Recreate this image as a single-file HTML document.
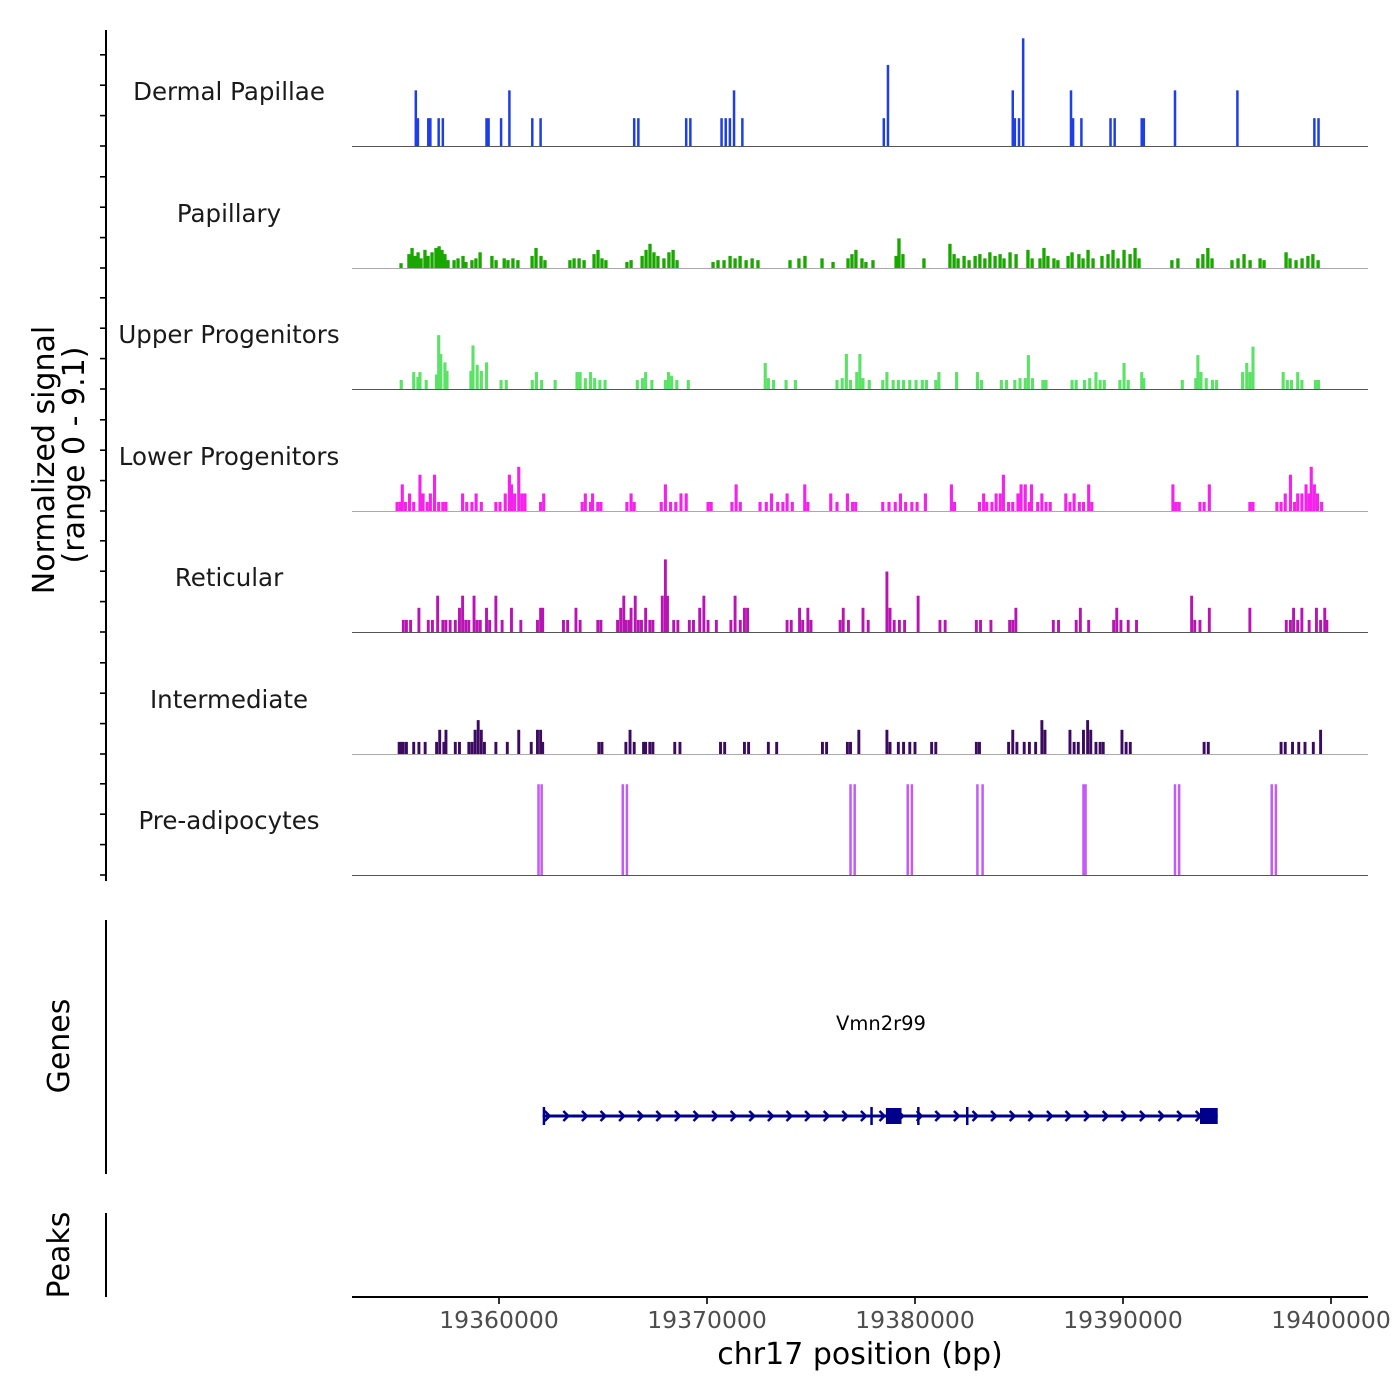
<!DOCTYPE html>
<html><head><meta charset="utf-8"><style>
html,body{margin:0;padding:0;background:#fff}
svg{display:block;font-family:"DejaVu Sans","Liberation Sans",sans-serif}
</style></head><body>
<svg id="chart" width="1400" height="1400" viewBox="0 0 1400 1400" xmlns="http://www.w3.org/2000/svg">
<g id="tracks"></g>
<g id="genes"></g>
<g id="axes"></g>
</svg>
<script>
const trackNames = ["Dermal Papillae","Papillary","Upper Progenitors","Lower Progenitors","Reticular","Intermediate","Pre-adipocytes"];
const trackColors = ["#1f3fe6","#1aa800","#5ce266","#f522ee","#b814b4","#3c0a60","#c25cf7"];
const dermalPos = [19356.0,19356.1,19356.6,19356.7,19357.1,19357.3,19359.4,19359.5,19360.1,19360.5,19361.6,19362.0,19366.5,19366.7,19369.0,19369.2,19370.7,19370.9,19371.1,19371.3,19371.7,19378.5,19378.7,19384.7,19384.8,19385.0,19385.2,19387.5,19387.6,19388.0,19389.4,19389.6,19390.9,19391.0,19392.5,19395.5,19399.2,19399.4];
const dermalVal = [4.6,2.3,2.3,2.3,2.3,2.3,2.3,2.3,2.3,4.6,2.3,2.3,2.3,2.3,2.3,2.3,2.3,2.3,2.3,4.6,2.3,2.3,6.7,4.6,2.3,2.3,8.9,4.6,2.3,2.3,2.3,2.3,2.3,2.3,4.6,4.6,2.3,2.3];
const papPos = [19355.29,19355.67,19355.82,19355.96,19356.11,19356.25,19356.44,19356.59,19356.78,19356.97,19357.12,19357.26,19357.40,19357.55,19357.84,19358.03,19358.27,19358.41,19358.70,19358.89,19359.09,19359.66,19359.86,19360.25,19360.43,19360.67,19360.91,19361.59,19361.78,19362.02,19362.21,19363.41,19363.61,19363.85,19364.09,19364.57,19364.76,19364.95,19365.14,19366.15,19366.35,19366.88,19367.07,19367.26,19367.45,19367.64,19367.93,19368.17,19368.37,19368.56,19370.29,19370.53,19370.82,19371.11,19371.35,19371.59,19371.88,19372.17,19372.45,19373.99,19374.42,19374.71,19375.53,19376.06,19376.78,19376.97,19377.16,19377.45,19377.64,19377.98,19379.09,19379.23,19379.42,19380.43,19381.68,19381.88,19382.07,19382.36,19382.60,19382.89,19383.12,19383.36,19383.60,19383.85,19384.09,19384.28,19384.57,19384.86,19385.43,19385.63,19386.01,19386.20,19386.39,19386.68,19386.87,19387.36,19387.55,19387.88,19388.08,19388.32,19388.56,19388.99,19389.28,19389.52,19389.76,19390.05,19390.34,19390.58,19390.77,19392.35,19392.64,19393.60,19393.84,19394.08,19394.28,19395.24,19395.53,19395.82,19396.11,19396.59,19396.78,19397.84,19398.03,19398.32,19398.61,19398.89,19399.13,19399.38];
const papVal = [0.4,1.15,1.65,1.0,1.3,0.8,1.5,1.0,1.3,1.65,1.8,1.5,1.15,0.65,0.65,0.8,1.0,0.5,0.65,0.8,1.3,1.0,0.65,0.8,0.65,0.8,0.65,1.0,1.65,1.0,0.65,0.65,0.8,0.8,0.65,1.15,1.5,0.8,0.65,0.5,0.65,1.0,1.5,2.0,1.3,1.0,0.8,1.3,1.5,0.65,0.5,0.65,0.65,1.0,0.8,1.0,0.65,0.8,0.65,0.65,0.8,1.0,0.8,0.5,0.8,1.15,1.5,0.8,0.5,0.65,1.0,2.45,1.15,0.8,2.0,1.15,0.8,1.0,0.65,1.0,1.15,0.8,1.3,1.0,1.15,0.8,1.3,1.15,1.5,0.8,0.8,1.65,1.0,0.8,0.65,1.0,1.3,1.15,0.8,1.5,0.8,1.0,1.15,1.5,0.8,1.5,1.15,1.65,0.8,0.65,0.8,0.8,1.15,1.65,0.8,0.65,0.8,1.15,0.65,0.8,0.65,1.3,0.8,0.65,0.8,1.0,1.15,0.65];
const upPos = [19355.3,19355.9,19356.1,19356.2,19356.5,19357.0,19357.1,19357.2,19357.4,19357.5,19358.65,19358.75,19358.95,19359.15,19359.4,19360.1,19360.35,19361.6,19361.8,19362.05,19362.7,19363.75,19363.9,19364.15,19364.4,19364.6,19364.85,19365.1,19366.65,19366.9,19367.05,19367.35,19368.0,19368.15,19368.3,19368.55,19369.1,19372.8,19372.95,19373.2,19373.8,19374.25,19376.25,19376.5,19376.7,19376.9,19377.2,19377.35,19377.5,19377.8,19378.45,19378.65,19378.95,19379.2,19379.45,19379.75,19380.05,19380.35,19380.55,19381.0,19381.15,19382.0,19383.0,19383.2,19384.15,19384.4,19384.8,19385.05,19385.3,19385.45,19385.65,19386.15,19386.3,19387.55,19387.75,19388.15,19388.4,19388.7,19388.9,19389.1,19389.85,19390.05,19390.25,19390.9,19391.0,19392.85,19393.5,19393.6,19393.75,19394.0,19394.3,19394.5,19395.75,19395.95,19396.1,19396.25,19397.7,19397.9,19398.1,19398.4,19398.6,19399.25,19399.4];
const upVal = [0.75,1.4,1.0,1.4,0.75,1.2,4.45,2.9,2.2,1.5,1.5,3.6,2.0,1.5,2.2,0.75,0.75,0.75,1.4,0.75,0.75,1.4,1.4,0.9,1.4,0.9,0.75,0.75,0.75,0.9,1.4,0.75,0.75,1.4,1.1,0.75,0.75,2.15,0.9,0.75,0.75,0.75,0.75,0.9,2.9,0.75,1.4,2.9,0.9,0.75,0.75,1.4,0.75,0.75,0.75,0.75,0.75,0.75,0.75,0.75,1.4,1.4,1.4,0.75,0.75,0.75,0.75,0.9,0.9,2.8,0.9,0.75,0.75,0.75,0.75,0.75,0.9,1.4,0.75,0.75,0.75,2.15,0.75,1.4,0.9,0.75,0.9,2.8,1.4,0.9,0.75,0.75,1.4,2.15,1.4,3.5,1.4,0.75,0.75,1.4,0.75,0.75,0.75];
const lowPos = [19355.1,19355.25,19355.35,19355.5,19355.7,19355.9,19356.2,19356.35,19356.55,19356.7,19356.9,19357.1,19357.3,19357.45,19358.25,19358.45,19358.7,19358.9,19359.15,19359.85,19360.05,19360.3,19360.5,19360.6,19360.75,19360.95,19361.1,19361.25,19362.0,19362.15,19364.0,19364.15,19364.4,19364.5,19364.75,19364.9,19366.15,19366.35,19366.5,19367.8,19368.0,19368.25,19368.5,19368.75,19369.0,19370.05,19370.2,19371.2,19371.4,19371.6,19372.55,19372.85,19373.1,19373.4,19373.65,19373.85,19374.1,19374.7,19374.85,19375.95,19376.25,19376.75,19377.0,19377.15,19378.45,19378.75,19379.05,19379.3,19379.55,19379.85,19380.1,19380.5,19381.75,19381.9,19383.1,19383.3,19383.45,19383.7,19383.9,19384.1,19384.25,19384.5,19384.7,19384.95,19385.1,19385.3,19385.5,19385.6,19385.9,19386.1,19386.3,19386.5,19387.25,19387.45,19387.65,19387.9,19388.1,19388.35,19388.5,19392.4,19392.55,19392.7,19393.7,19393.9,19394.15,19396.1,19396.25,19397.4,19397.6,19397.8,19398.05,19398.25,19398.4,19398.6,19398.8,19398.95,19399.05,19399.2,19399.35,19399.55];
const lowVal = [0.75,0.75,2.2,0.75,1.45,0.75,3.0,1.45,0.75,1.45,3.0,0.75,0.75,0.75,1.45,0.75,0.75,1.45,0.75,0.75,0.75,1.45,3.0,2.2,1.45,3.65,1.45,1.45,0.75,1.45,0.75,1.45,0.75,1.45,0.75,0.75,0.75,1.45,0.75,0.75,2.2,0.75,0.75,1.45,1.45,0.75,0.75,0.75,2.2,0.75,0.75,0.75,1.45,0.75,0.75,1.45,0.75,2.2,0.75,1.45,0.75,1.45,0.75,0.75,0.75,0.75,0.75,1.45,0.75,0.75,0.75,1.45,2.2,0.75,0.75,1.45,0.75,0.75,1.45,1.45,3.0,0.75,0.75,1.45,2.2,2.2,0.75,2.2,0.75,1.45,0.75,0.75,1.45,0.75,1.45,0.75,0.75,2.2,0.75,2.2,0.75,0.75,0.75,0.75,2.2,0.75,0.75,0.75,0.75,1.45,3.0,0.75,1.45,1.45,2.2,1.45,3.65,2.2,1.45,0.75];
const retPos = [19355.4,19355.55,19355.75,19356.15,19356.6,19356.8,19357.05,19357.3,19357.45,19357.65,19357.9,19358.1,19358.25,19358.4,19358.55,19358.8,19358.95,19359.1,19359.4,19359.55,19359.85,19360.15,19360.6,19361.05,19361.85,19362.0,19362.1,19363.1,19363.3,19363.7,19363.9,19364.75,19364.9,19365.7,19365.85,19366.0,19366.1,19366.25,19366.35,19366.55,19366.7,19366.85,19367.05,19367.25,19367.4,19367.85,19368.0,19368.1,19368.4,19368.6,19369.15,19369.35,19369.65,19369.85,19370.05,19370.45,19371.15,19371.35,19371.6,19371.8,19371.95,19373.85,19374.05,19374.45,19374.6,19374.85,19375.0,19376.4,19376.55,19376.8,19377.5,19377.75,19378.65,19378.8,19379.0,19379.25,19379.5,19380.15,19381.2,19381.45,19382.95,19383.15,19383.65,19384.55,19384.7,19384.85,19386.65,19386.9,19387.75,19387.95,19388.35,19389.55,19389.7,19389.9,19390.25,19390.65,19393.3,19393.45,19393.7,19394.15,19396.1,19397.85,19398.05,19398.2,19398.4,19398.6,19398.95,19399.3,19399.5,19399.7,19399.8];
const retVal = [1.0,1.0,1.0,2.0,1.0,1.0,3.0,1.0,1.0,1.0,1.0,2.0,3.0,1.0,1.0,3.0,1.0,1.0,2.0,1.0,3.0,1.0,2.0,1.0,1.0,2.0,2.0,1.0,1.0,2.0,1.0,1.0,1.0,1.0,2.0,3.0,1.0,1.0,2.0,3.0,1.0,1.0,2.0,1.0,1.0,3.0,6.0,3.0,1.0,1.0,1.0,1.0,2.0,3.0,1.0,1.0,1.0,3.0,1.0,2.0,2.0,1.0,1.0,2.0,1.0,2.0,1.0,1.0,2.0,1.0,2.0,1.0,5.0,2.0,1.0,1.0,1.0,3.0,1.0,1.0,1.0,1.0,1.0,1.0,1.0,2.0,1.0,1.0,1.0,2.0,1.0,1.0,2.0,1.0,1.0,1.0,3.0,1.0,1.0,2.0,2.0,1.0,1.0,2.0,1.0,2.0,1.0,2.0,1.0,2.0,1.0];
const intPos = [19355.2,19355.3,19355.4,19355.55,19355.9,19356.15,19356.45,19357.0,19357.15,19357.35,19357.45,19357.9,19358.1,19358.55,19358.7,19358.85,19359.0,19359.15,19359.3,19359.85,19360.4,19360.95,19361.55,19361.85,19362.0,19362.1,19364.8,19364.95,19366.1,19366.3,19366.5,19366.95,19367.05,19367.25,19367.4,19368.45,19368.7,19370.65,19370.85,19371.8,19372.0,19372.95,19373.35,19375.55,19375.75,19376.75,19376.9,19377.3,19378.65,19378.8,19379.2,19379.45,19379.75,19380.0,19380.8,19381.0,19382.95,19383.1,19384.5,19384.7,19384.9,19385.25,19385.5,19385.8,19386.1,19386.25,19387.45,19387.65,19387.85,19388.1,19388.3,19388.45,19388.7,19388.9,19389.05,19389.95,19390.15,19390.35,19393.9,19394.1,19397.6,19397.8,19398.15,19398.45,19398.75,19399.15,19399.5];
const intVal = [1.0,1.0,1.0,1.0,1.0,1.0,1.0,1.0,2.0,1.0,2.0,1.0,1.0,1.0,1.0,2.0,2.8,2.0,1.0,1.0,1.0,2.0,1.0,2.0,2.0,1.0,1.0,1.0,1.0,2.0,1.0,1.0,1.0,1.0,1.0,1.0,1.0,1.0,1.0,1.0,1.0,1.0,1.0,1.0,1.0,1.0,1.0,2.0,2.0,1.0,1.0,1.0,1.0,1.0,1.0,1.0,1.0,1.0,1.0,2.0,1.0,1.0,1.0,1.0,2.8,2.0,2.0,1.0,1.0,2.0,2.8,2.0,1.0,1.0,1.0,2.0,1.0,1.0,1.0,1.0,1.0,1.0,1.0,1.0,1.0,1.0,2.0];
const prePos = [19361.9,19362.05,19365.95,19366.15,19376.9,19377.1,19379.65,19379.85,19383.0,19383.25,19388.1,19388.2,19392.5,19392.7,19397.15,19397.35];
const preVal = [7.5,7.5,7.5,7.5,7.5,7.5,7.5,7.5,7.5,7.5,7.5,7.5,7.5,7.5,7.5,7.5];
const xTicks = [19360000,19370000,19380000,19390000,19400000];
const geneName = "Vmn2r99";
const geneStart = 19362.1, geneEnd = 19394.55;
const exonStart = [19362.1,19377.85,19378.6,19380.1,19382.45,19393.7];
const exonEnd   = [19362.2,19377.95,19379.35,19380.2,19382.5,19394.55];
const exonTall  = [1,1,0,1,1,0];

const NS="http://www.w3.org/2000/svg";
const X0=352,X1=1368, KB0=19360, PX0=499, PXKB=20.8;
function xs(kb){return PX0+(kb-KB0)*PXKB;}
const baselines=[146,268,389,511,632,754,875];
const PXU=12.1;
function ys(v,t){return baselines[t]-v*PXU;}
function mk(tag,attrs,parent){const e=document.createElementNS(NS,tag);for(const k in attrs)e.setAttribute(k,attrs[k]);parent.appendChild(e);return e;}
const tg=document.getElementById('tracks');
const allPos=[dermalPos,papPos,upPos,lowPos,retPos,intPos,prePos];
const allVal=[dermalVal,papVal,upVal,lowVal,retVal,intVal,preVal];
const binW=[0.12,0.16,0.15,0.15,0.14,0.14,0.12];
const lineCol=["#555","#aaa","#555","#aaa","#555","#aaa","#555"];
for(let t=0;t<7;t++){
  const g=mk('g',{},tg);
  
  
  const lab=mk('text',{x:229,y:baselines[t]-46,'text-anchor':'middle','font-size':24.5,fill:'#1a1a1a'},g);
  lab.textContent=trackNames[t];
  
  
  const P=allPos[t],V=allVal[t];
  for(let i=0;i<P.length;i++){
    const x=xs(P[i]-binW[t]/2), w=binW[t]*PXKB, y=ys(V[i],t);
    const r=mk('rect',{x:x.toFixed(2),y:y.toFixed(2),width:w.toFixed(2),height:(baselines[t]-y).toFixed(2),fill:trackColors[t]},g);
    
    
  }
  const bl=mk('line',{x1:X0,x2:X1,y1:baselines[t]+0.5,y2:baselines[t]+0.5,stroke:lineCol[t],'stroke-width':1},g);
  
  
}
const gg=document.getElementById('genes');
const GY=1116, GC="#00008b";
const gl=mk('line',{x1:xs(geneStart),x2:xs(geneEnd),y1:GY,y2:GY,stroke:GC,'stroke-width':3},gg);


for(let x=xs(geneStart)+2;x<xs(geneEnd)-6;x+=18.6){
  const a=mk('path',{d:`M${x.toFixed(1)},${GY-5} L${(x+5).toFixed(1)},${GY} L${x.toFixed(1)},${GY+5}`,stroke:GC,'stroke-width':2.5,fill:'none'},gg);
  
  
}
for(let i=0;i<exonStart.length;i++){
  const x=xs(exonStart[i]),w=Math.max(2.5,(exonEnd[i]-exonStart[i])*PXKB);
  const h=exonTall[i]?18:16;
  const e=mk('rect',{x:x.toFixed(1),y:GY-h/2,width:w.toFixed(1),height:h,fill:GC},gg);
  
  
}
const gn=mk('text',{x:881,y:1030,'text-anchor':'middle','font-size':19.5,fill:'#000'},gg);
gn.textContent=geneName;


const ag=document.getElementById('axes');
function ln(a,name){const l=mk('line',Object.assign({stroke:'#000','stroke-width':2},a),ag);return l;}
ln({x1:106,x2:106,y1:30,y2:881},'y-axis-line');
for(let t=0;t<7;t++)for(let k=0;k<4;k++){const y=baselines[t]-k*30.4;ln({x1:100,x2:106,y1:y,y2:y,'stroke-width':1.6},'y-axis-tick');}
ln({x1:106,x2:106,y1:920,y2:1174},'genes-axis-line');
ln({x1:106,x2:106,y1:1213,y2:1297},'peaks-axis-line');
ln({x1:352,x2:1368,y1:1297,y2:1297},'x-axis-line');
xTicks.forEach(v=>{const x=xs(v/1000);ln({x1:x,x2:x,y1:1297,y2:1304,'stroke-width':1.6},'x-axis-tick');
  const t=mk('text',{x:x,y:1328,'text-anchor':'middle','font-size':23.5,fill:'#4d4d4d'},ag);t.textContent=String(v);
  });
function txt(s,a,name){const t=mk('text',a,ag);t.textContent=s;}
txt('chr17 position (bp)',{x:860,y:1364,'text-anchor':'middle','font-size':30,fill:'#000'},'x-axis-title');
txt('Normalized signal',{x:0,y:0,'text-anchor':'middle','font-size':30,transform:'translate(54,460) rotate(-90)'},'y-axis-title');
txt('(range 0 - 9.1)',{x:0,y:0,'text-anchor':'middle','font-size':30,transform:'translate(84,455) rotate(-90)'},'y-axis-range');
txt('Genes',{x:0,y:0,'text-anchor':'middle','font-size':30,transform:'translate(69,1046) rotate(-90)'},'genes-axis-title');
txt('Peaks',{x:0,y:0,'text-anchor':'middle','font-size':30,transform:'translate(69,1255) rotate(-90)'},'peaks-axis-title');
</script>
</body></html>
